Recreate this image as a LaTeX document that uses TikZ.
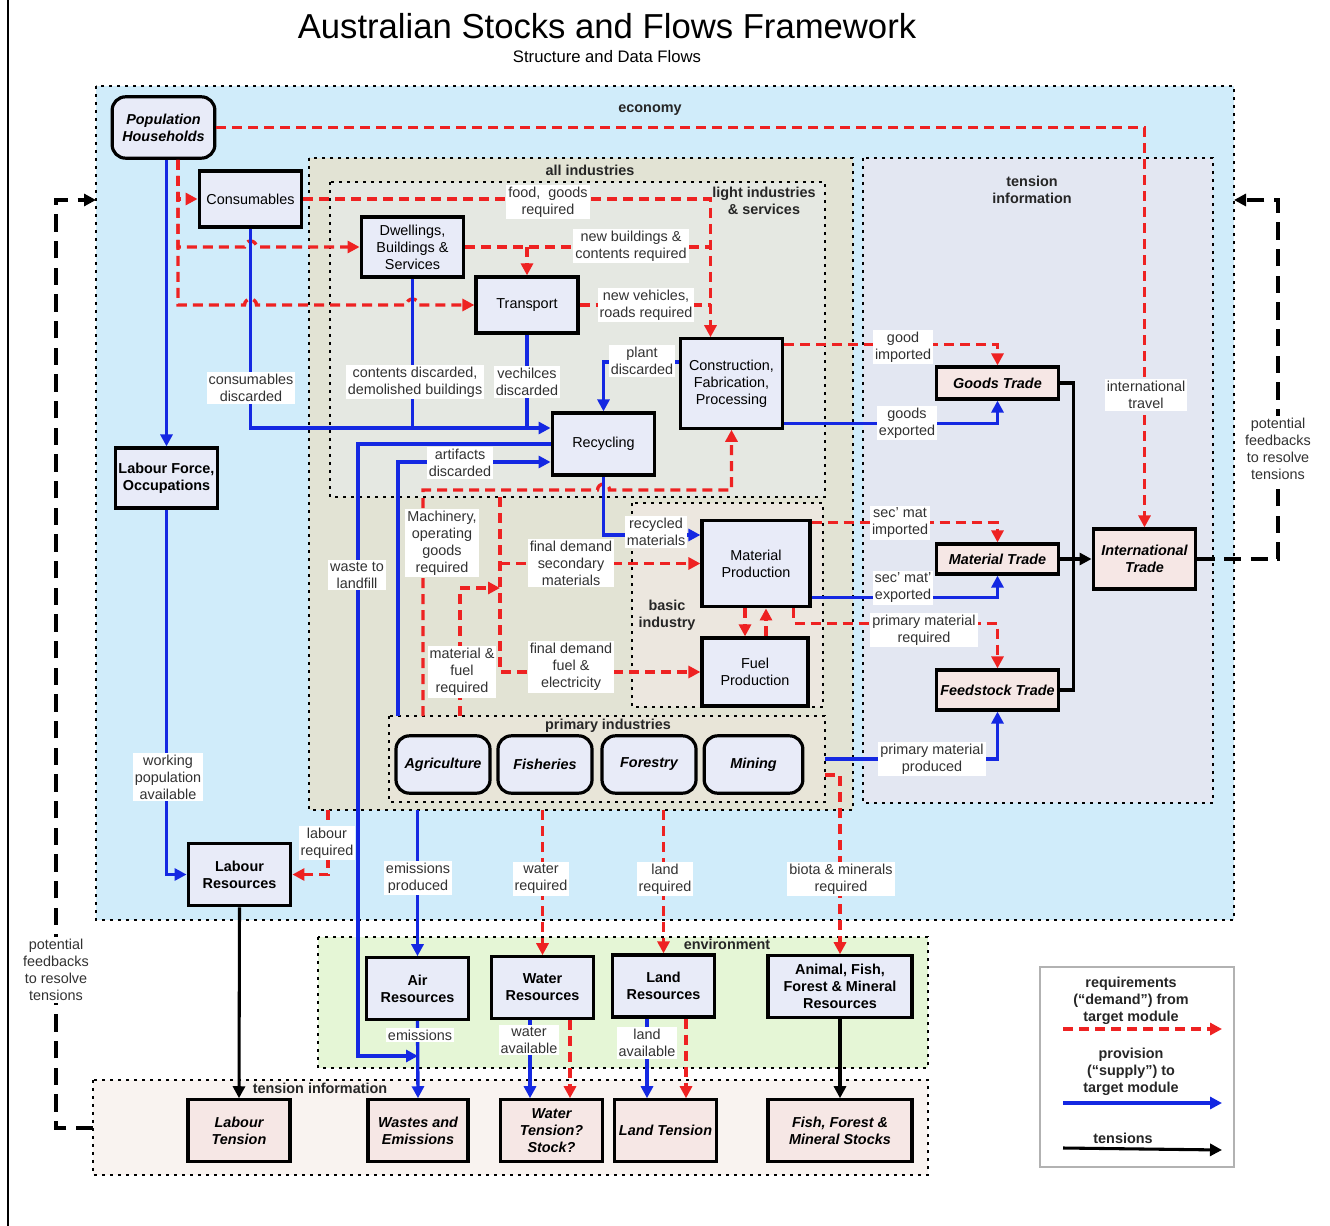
\documentclass[tikz,border=0pt]{standalone}
\usepackage{fontspec}
\setmainfont{Liberation Sans}
\usetikzlibrary{arrows.meta,calc}

\definecolor{econblue}{RGB}{208,236,250}
\definecolor{indgrey}{RGB}{226,227,212}
\definecolor{lightgrey}{RGB}{229,232,226}
\definecolor{basicbeige}{RGB}{236,231,223}
\definecolor{primbeige}{RGB}{232,229,216}
\definecolor{tradelav}{RGB}{227,231,242}
\definecolor{envgreen}{RGB}{229,246,214}
\definecolor{tenspink}{RGB}{249,243,240}
\definecolor{boxblue}{RGB}{232,235,248}
\definecolor{boxpink}{RGB}{246,231,229}
\definecolor{demred}{RGB}{238,34,34}
\definecolor{supblue}{RGB}{20,40,226}
\definecolor{labgrey}{RGB}{50,50,50}

\newcommand{\figsz}{\fontsize{10.8}{12.75}\selectfont}

\tikzset{
  box/.style={draw=black, line width=2.4pt, fill=boxblue, align=center, inner sep=1pt, font=\figsz},
  bbox/.style={box, font=\figsz\bfseries},
  rbox/.style={box, rounded corners=10pt, font=\figsz\bfseries\itshape},
  tbox/.style={box, fill=boxpink, font=\figsz\bfseries\itshape},
  lbl/.style={fill=white, text=labgrey, align=center, inner sep=1.5pt, font=\figsz},
  zlbl/.style={align=center, text=black!85, inner sep=1pt, font=\figsz\bfseries},
  zone/.style={draw=black, line width=2.2pt, dash pattern=on 2.2pt off 3.8pt},
  dline/.style={draw=demred, line width=2.5pt, dash pattern=on 7.5pt off 4.5pt},
  dem/.style={dline, -{Triangle[length=9pt,width=9pt]}},
  sline/.style={draw=supblue, line width=2.5pt},
  sup/.style={sline, -{Triangle[length=9pt,width=9pt]}},
  tline/.style={draw=black, line width=2.3pt},
  ten/.style={tline, -{Triangle[length=9pt,width=9pt]}},
  fback/.style={draw=black, line width=2.3pt, dash pattern=on 13pt off 7pt, -{Triangle[length=9pt,width=9pt]}},
}

\begin{document}
\begin{tikzpicture}[x=0.75pt,y=0.75pt,yscale=-1,xscale=1]
\useasboundingbox (0,0) rectangle (1330,1226);

%page edge
\draw[line width=1.2pt] (8,0) -- (8,1226);

% Titles
\node[font=\fontsize{26}{30}\selectfont] (title) at (607,26) {Australian Stocks and Flows Framework};
\node[font=\fontsize{12.5}{14}\selectfont] (subtitle) at (607,57) {Structure and Data Flows};

% Zones
\draw[zone, fill=econblue] (96,86) rectangle (1234,920);
\draw[zone, fill=indgrey] (309,158) rectangle (853,810);
\draw[zone, fill=lightgrey] (330,182) rectangle (825,497);
\draw[zone, fill=basicbeige] (632,503) rectangle (823,707);
\draw[zone, fill=primbeige] (389,716) rectangle (825,802);
\draw[zone, fill=tradelav] (863,158) rectangle (1213,803);
\draw[zone, fill=envgreen] (318,937) rectangle (928,1068);
\draw[zone, fill=tenspink] (93,1080) rectangle (928,1175);

\node[zlbl] (zecon) at (650,110) {economy};
\node[zlbl] (zind) at (590,170) {all industries};
\node[zlbl] (zlight) at (764,201) {light industries\\\& services};
\node[zlbl] (zbasic) at (667,615) {basic\\industry};
\node[zlbl] (zprim) at (608,726) {primary industries};
\node[zlbl] (ztrade) at (1032,190) {tension\\information};
\node[zlbl] (zenv) at (727,944) {environment};
\node[zlbl] (ztens) at (320,1088) {tension information};

% Economy boxes
\node[rbox, minimum width=77pt, minimum height=46pt] (pop) at (163.5,127.5) {Population\\Households};
\node[box, minimum width=77pt, minimum height=42pt] (cons) at (250.5,199) {Consumables};
\node[box, minimum width=77pt, minimum height=45pt] (dwell) at (412.5,247) {Dwellings,\\Buildings \&\\Services};
\node[box, minimum width=76.5pt, minimum height=42pt] (trans) at (527,305) {Transport};
\node[box, minimum width=77pt, minimum height=67pt] (constr) at (731.5,383.5) {Construction,\\Fabrication,\\Processing};
\node[box, minimum width=77pt, minimum height=46.5pt] (recyc) at (603.5,444) {Recycling};
\node[box, minimum width=81pt, minimum height=65pt] (matprod) at (756,563.5) {Material\\Production};
\node[box, minimum width=79.5pt, minimum height=51pt] (fuel) at (755,672) {Fuel\\Production};
\node[bbox, minimum width=77pt, minimum height=45pt] (labforce) at (166.5,478) {Labour Force,\\Occupations};
\node[bbox, minimum width=77pt, minimum height=47pt] (labres) at (239.5,874.5) {Labour\\Resources};

% Primary industries
\node[rbox, minimum width=70.5pt, minimum height=43pt] (agri) at (443,764.5) {Agriculture};
\node[rbox, minimum width=70.5pt, minimum height=43pt] (fish) at (545,764.5) {Fisheries};
\node[rbox, minimum width=70.5pt, minimum height=43pt] (forest) at (649,764.5) {Forestry};
\node[rbox, minimum width=74pt, minimum height=43pt] (mining) at (753.5,764.5) {Mining};

% Trade
\node[tbox, minimum width=91pt, minimum height=24pt] (goods) at (997.5,383) {Goods Trade};
\node[tbox, minimum width=91pt, minimum height=22.5pt] (mattr) at (997.5,559) {Material Trade};
\node[tbox, minimum width=91pt, minimum height=30pt] (feed) at (997.5,690) {Feedstock Trade};
\node[tbox, minimum width=77pt, minimum height=45pt] (intl) at (1144.5,559) {International\\Trade};

% Environment
\node[bbox, minimum width=76pt, minimum height=46pt] (air) at (417.5,988.5) {Air\\Resources};
\node[bbox, minimum width=77pt, minimum height=46pt] (water) at (542.5,987.5) {Water\\Resources};
\node[bbox, minimum width=77pt, minimum height=46.5pt] (land) at (663.5,986) {Land\\Resources};
\node[bbox, minimum width=108pt, minimum height=46pt] (animal) at (840,986.5) {Animal, Fish,\\Forest \& Mineral\\Resources};

% Tensions
\node[tbox, minimum width=76.5pt, minimum height=46pt] (labten) at (239,1130.5) {Labour\\Tension};
\node[tbox, minimum width=75pt, minimum height=46pt] (waste) at (418,1130.5) {Wastes and\\Emissions};
\node[tbox, minimum width=77pt, minimum height=46pt] (waten) at (551.5,1130.5) {Water\\Tension?\\Stock?};
\node[tbox, minimum width=77pt, minimum height=46pt] (landten) at (665.5,1130.5) {Land Tension};
\node[tbox, minimum width=108pt, minimum height=46pt] (stocks) at (840,1130.5) {Fish, Forest \&\\Mineral Stocks};

% free ends on zone borders
\coordinate (popr) at ($(pop.south)+(14.5,0)$);
\coordinate (cjoin) at ($(constr.north)+(-21,0)$);
\coordinate (mach) at (423,716);
\coordinate (machc) at (423,490);
\coordinate (mf) at (460,716);
\coordinate (fdtop) at (500,497);
\coordinate (fdmid) at (500,588);
\coordinate (art) at (398,716);
\coordinate (lf) at (358,1056);
\coordinate (pp) at (825,759);
\coordinate (bio) at (825,775);
\coordinate (indb) at (0,810);
\coordinate (labq) at (328,810);

% Demand (red)
\draw[dem] (pop.east) -| (intl.north);
\draw[dem] (popr) |- (cons.west);
\draw[dem] (popr) |- ($(cons.south |- dwell.west)+(-6,0)$) arc[start angle=180,end angle=360,radius=6] -- (dwell.west);
\draw[dem] (popr) |- ($(cons.south |- trans.west)+(-6,0)$) arc[start angle=180,end angle=360,radius=6] -- ($(dwell.south |- trans.west)+(-6,0)$) arc[start angle=180,end angle=360,radius=6] -- (trans.west);
\draw[dem] (cons.east) -| (cjoin);
\draw[dline] (dwell.east) -- (dwell.east -| cjoin);
\draw[dem] (dwell.east -| trans.north) -- (trans.north);
\draw[dline] (trans.east) -- (trans.east -| cjoin);
\draw[dem] ($(constr.north east)+(0,7)$) -| (goods.north);
\draw[dem] (mach) -- (machc) -- ($(recyc.south |- machc)+(-6,0)$) arc[start angle=180,end angle=360,radius=6] -| (constr.south);
\draw[dem] (mf) |- (fdmid);
\draw[dem] (fdtop) |- (fuel.west);
\draw[dem] (fdtop |- matprod.west) -- (matprod.west);
\draw[dem] ($(matprod.south)+(-11,0)$) -- ($(fuel.north)+(-10,0)$);
\draw[dem] ($(fuel.north)+(11,0)$) -- ($(matprod.south)+(10,0)$);
\draw[dem] ($(matprod.north east)+(0,4)$) -| (mattr.north);
\draw[dem] ($(matprod.south east)+(-18,0)$) -- ++(0,15) -| (feed.north);
\draw[dem] (bio) -| (animal.north);
\draw[dem] (labq) |- (labres.east);
\draw[dem] (water.north |- indb) -- (water.north);
\draw[dem] (land.north |- indb) -- (land.north);
\draw[dem] ($(water.south)+(27.5,0)$) -- ($(waten.north)+(18.5,0)$);
\draw[dem] ($(land.south)+(22.5,0)$) -- ($(landten.north)+(20.5,0)$);

% Supply (blue)
\draw[sup] (pop.south -| labforce.north) -- (labforce.north);
\draw[sup] (labforce.south) |- (labres.west);
\draw[sup] (cons.south) |- ($(recyc.west)+(0,-16)$);
\draw[sline] (dwell.south) -- ($(dwell.south |- recyc.west)+(0,-16)$);
\draw[sline] (trans.south) -- ($(trans.south |- recyc.west)+(0,-16)$);
\draw[sup] ($(constr.west)+(0,-21.5)$) -| (recyc.north);
\draw[sup] (recyc.west) -| (lf) -- (lf -| waste.north);
\draw[sup] (art) |- ($(recyc.west)+(0,18)$);
\draw[sup] (recyc.south) |- ($(matprod.west)+(0,-28.5)$);
\draw[sup] ($(constr.south east)+(0,-6)$) -| (goods.south);
\draw[sup] ($(matprod.south east)+(0,-11)$) -| (mattr.south);
\draw[sup] (pp) -| (feed.south);
\draw[sup] (air.north |- indb) -- (air.north);
\draw[sup] (air.south) -- (waste.north);
\draw[sup] ($(water.south)+(-12.5,0)$) -- ($(waten.north)+(-21.5,0)$);
\draw[sup] ($(land.south)+(-16.5,0)$) -- ($(landten.north)+(-18.5,0)$);

% Tensions (black)
\draw[tline] (goods.east) -- ++(14,0) |- (feed.east);
\draw[ten] (mattr.east) -- (intl.west);
\draw[ten] (labres.south) -- (labten.north);
\draw[ten] (animal.south) -- (stocks.north);

% Feedbacks
\coordinate (fbl0) at (93,1128);
\coordinate (fbl1) at (56,200);
\coordinate (fbl2) at (96,200);
\coordinate (fbr1) at (1278,200);
\coordinate (fbr2) at (1234,200);
\draw[fback] (fbl0) -| (fbl1) -- (fbl2);
\draw[fback] (intl.east) -| (fbr1) -- (fbr2);
\node[lbl] (fbltxt) at (56,970) {potential\\feedbacks\\to resolve\\tensions};
\node[lbl] (fbrtxt) at (1278,449) {potential\\feedbacks\\to resolve\\tensions};

% Flow labels
\node[lbl] (tfood) at (548,202) {food,\ \ goods\\required};
\node[lbl] (tnewb) at (631,246) {new buildings \&\\contents required};
\node[lbl] (tnewv) at (646,305) {new vehicles,\\roads required};
\node[lbl] (tcons) at (251,388) {consumables\\discarded};
\node[lbl] (tcont) at (415,382) {contents discarded,\\demolished buildings};
\node[lbl] (tveh) at (527,382) {vechilces\\discarded};
\node[lbl] (tplant) at (642,361) {plant\\discarded};
\node[lbl] (tart) at (460,463) {artifacts\\discarded};
\node[lbl] (tland) at (357,575) {waste to\\landfill};
\node[lbl] (tmach) at (442,543) {Machinery,\\operating\\goods\\required};
\node[lbl] (tmf) at (462,672) {material \&\\fuel\\required};
\node[lbl] (tfds) at (571,563) {final demand\\secondary\\materials};
\node[lbl] (tfdf) at (571,667) {final demand\\fuel \&\\electricity};
\node[lbl] (trec) at (656,532) {recycled\\materials};
\node[lbl] (tgimp) at (903,347) {good\\imported};
\node[lbl] (tgexp) at (907,423) {goods\\exported};
\node[lbl] (tsimp) at (900,523) {sec' mat\\imported};
\node[lbl] (tsexp) at (903,588) {sec' mat'\\exported};
\node[lbl] (tpreq) at (924,630) {primary material\\required};
\node[lbl] (tprod) at (932,759) {primary material\\produced};
\node[lbl] (ttrav) at (1146,395) {international\\travel};
\node[lbl] (twork) at (168,777) {working\\population\\available};
\node[lbl] (tlabq) at (327,843) {labour\\required};
\node[lbl] (temp) at (418,878) {emissions\\produced};
\node[lbl] (twq) at (541,879) {water\\required};
\node[lbl] (tlq) at (665,879) {land\\required};
\node[lbl] (tbio) at (841,879) {biota \& minerals\\required};
\node[lbl] (temi) at (420,1035) {emissions};
\node[lbl] (twav) at (529,1040) {water\\available};
\node[lbl] (tlav) at (647,1043) {land\\available};

% Legend
\draw[draw=gray!60, line width=0.8pt, fill=white] (1040,967) rectangle (1234,1167);
\node[zlbl] (legdem) at (1131,1001) {requirements\\(“demand”) from\\target module};
\node[zlbl] (legsup) at (1131,1072) {provision\\(“supply”) to\\target module};
\node[zlbl] (legten) at (1123,1138) {tensions};
\coordinate (ld1) at (1063,1029);
\coordinate (ld2) at (1222,1029);
\coordinate (ls1) at (1063,1103);
\coordinate (ls2) at (1222,1103);
\coordinate (lt1) at (1063,1148);
\coordinate (lt2) at (1222,1150);
\draw[dem] (ld1) -- (ld2);
\draw[sup] (ls1) -- (ls2);
\draw[ten] (lt1) -- (lt2);

\end{tikzpicture}
\end{document}
